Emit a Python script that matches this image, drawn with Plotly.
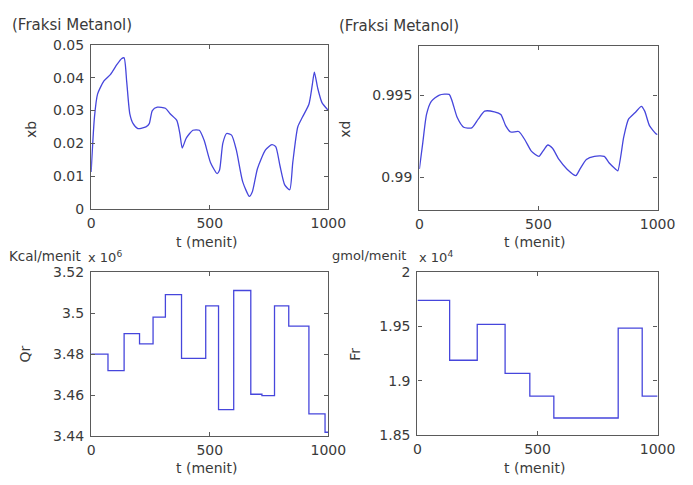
import plotly.graph_objects as go

# ---- data ----
t_xb = [0, 14, 27, 54, 82, 109, 129, 139, 150, 163, 177, 197, 231, 245, 258, 279, 313, 333, 361, 374,
        384, 401, 429, 456, 476, 503, 531, 541, 555, 571, 592, 612, 639, 667, 680, 701, 735, 762, 778,
        796, 816, 837, 850, 871, 891, 918, 932, 941, 955, 973, 1000]
xb = [0.0113, 0.028, 0.035, 0.039, 0.041, 0.044, 0.0458, 0.0460, 0.0387, 0.029, 0.026, 0.0245, 0.025,
      0.026, 0.030, 0.031, 0.0307, 0.029, 0.027, 0.023, 0.0186, 0.0216, 0.024, 0.024, 0.021, 0.0142,
      0.0108, 0.0118, 0.020, 0.023, 0.0225, 0.018, 0.0083, 0.0039, 0.0054, 0.0123, 0.018, 0.0196,
      0.019, 0.0132, 0.0074, 0.0059, 0.0142, 0.025, 0.028, 0.0319, 0.0377, 0.0417, 0.0368, 0.0324, 0.030]

t_xd = [0, 14, 30, 50, 84, 125, 138, 159, 186, 220, 247, 274, 315, 342, 362, 383, 417, 444, 471, 502,
        518, 539, 559, 586, 620, 657, 674, 701, 735, 776, 796, 824, 833, 858, 878, 905, 932, 946, 966,
        993, 1000]
xd = [0.9905, 0.99206, 0.99382, 0.99461, 0.9950, 0.99504, 0.99461, 0.99363, 0.99304, 0.9930, 0.99353,
      0.99402, 0.99398, 0.99382, 0.99314, 0.99275, 0.99278, 0.99225, 0.99157, 0.99127, 0.99157, 0.99196,
      0.99176, 0.99108, 0.99049, 0.9901, 0.99049, 0.99108, 0.99127, 0.99127, 0.99088, 0.99049, 0.99039,
      0.99245, 0.99353, 0.99392, 0.99431, 0.99402, 0.99314, 0.99265, 0.9926]

t_qr = [0, 71, 139, 204, 261, 313, 381, 483, 537, 601, 673, 720, 773, 833, 918, 986, 1000]
qr = [3.480, 3.472, 3.490, 3.485, 3.498, 3.509, 3.478, 3.5035, 3.453, 3.511, 3.4605, 3.4598, 3.5035,
      3.4937, 3.451, 3.442, 3.442]

t_fr = [0, 134, 249, 365, 468, 568, 836, 936, 1000]
fr = [1.974, 1.919, 1.952, 1.907, 1.886, 1.866, 1.9485, 1.886, 1.886]

x_ticks = [0, 500, 1000]
x_ticktext = ["0", "500", "1000"]
xb_ticks = [0, 0.01, 0.02, 0.03, 0.04, 0.05]
xb_ticktext = ["0", "0.01", "0.02", "0.03", "0.04", "0.05"]
xd_ticks = [0.99, 0.995]
xd_ticktext = ["0.99", "0.995"]
qr_ticks = [3.44, 3.46, 3.48, 3.50, 3.52]
qr_ticktext = ["3.44", "3.46", "3.48", "3.5", "3.52"]
fr_ticks = [1.85, 1.90, 1.95, 2.00]
fr_ticktext = ["1.85", "1.9", "1.95", "2"]

# ---- figure ----
W, H = 693, 485
LINE = dict(color="#4646dc", width=1.3)
FAMILY = "DejaVu Sans, Liberation Sans, Arial, sans-serif"
TXT = "#3a3a3a"
FONT = dict(family=FAMILY, size=14, color=TXT)

fig = go.Figure()
fig.add_trace(go.Scatter(x=t_xb, y=xb, mode="lines", line=dict(**LINE, shape="spline", smoothing=0.6),
                         xaxis="x", yaxis="y", showlegend=False))
fig.add_trace(go.Scatter(x=t_xd, y=xd, mode="lines", line=dict(**LINE, shape="spline", smoothing=0.6),
                         xaxis="x2", yaxis="y2", showlegend=False))
fig.add_trace(go.Scatter(x=t_qr, y=qr, mode="lines", line=dict(**LINE, shape="hv"),
                         xaxis="x3", yaxis="y3", showlegend=False))
fig.add_trace(go.Scatter(x=t_fr, y=fr, mode="lines", line=dict(**LINE, shape="hv"),
                         xaxis="x4", yaxis="y4", showlegend=False))


def px_dom_x(a, b):
    return [a / W, b / W]


def px_dom_y(top, bottom):
    return [1 - bottom / H, 1 - top / H]


AX = dict(showgrid=False, zeroline=False, showline=True, linecolor="#5a5a5a", linewidth=1.3,
          mirror="ticks", ticks="inside", ticklen=4, tickcolor="#5a5a5a", tickfont=FONT)


def xaxis(dom, anchor):
    return dict(domain=dom, anchor=anchor, range=[0, 1000], tickvals=x_ticks, ticktext=x_ticktext,
                ticklabelstandoff=1, **AX)


def yaxis(dom, anchor, rng, tv, tt):
    return dict(domain=dom, anchor=anchor, range=rng, tickvals=tv, ticktext=tt,
                ticklabelstandoff=3, **AX)


fig.update_layout(
    width=W, height=H, margin=dict(l=0, r=0, t=0, b=0),
    paper_bgcolor="white", plot_bgcolor="white", font=FONT,
    xaxis=xaxis(px_dom_x(90, 335), "y"),
    yaxis=yaxis(px_dom_y(38, 208), "x", [0, 0.05], xb_ticks, xb_ticktext),
    xaxis2=xaxis(px_dom_x(429, 675), "y2"),
    yaxis2=yaxis(px_dom_y(39, 209), "x2", [0.988, 0.998], xd_ticks, xd_ticktext),
    xaxis3=xaxis(px_dom_x(90, 335), "y3"),
    yaxis3=yaxis(px_dom_y(273, 443), "x3", [3.44, 3.52], qr_ticks, qr_ticktext),
    xaxis4=xaxis(px_dom_x(427, 675), "y4"),
    yaxis4=yaxis(px_dom_y(273, 442), "x4", [1.85, 2.0], fr_ticks, fr_ticktext),
)


def ann(text, x, y, xanchor="left", yanchor="middle", angle=0, size=14):
    fig.add_annotation(text=text, x=x / W, y=1 - y / H, xref="paper", yref="paper",
                       xanchor=xanchor, yanchor=yanchor, showarrow=False, textangle=angle,
                       font=dict(family=FAMILY, size=size, color=TXT))


ann("(Fraksi Metanol)", 6, 18, size=15)
ann("(Fraksi Metanol)", 344, 19, size=15)
ann("t (menit)", 209, 242, xanchor="center")
ann("t (menit)", 548, 242, xanchor="center")
ann("t (menit)", 209, 476, xanchor="center")
ann("t (menit)", 548, 476, xanchor="center")
ann("xb", 28, 126, xanchor="center", angle=-90)
ann("xd", 352, 125, xanchor="center", angle=-90)
ann("Qr", 22, 358, xanchor="center", angle=-90)
ann("Fr", 363, 358, xanchor="center", angle=-90)
ann("Kcal/menit", 82, 256, xanchor="right", size=13.5)
ann("x 10<sup>6</sup>", 85, 257, size=13)
ann("gmol/menit", 417, 256, xanchor="right", size=13)
ann("x 10<sup>4</sup>", 427, 257, size=13)

fig.write_html("out.html")
